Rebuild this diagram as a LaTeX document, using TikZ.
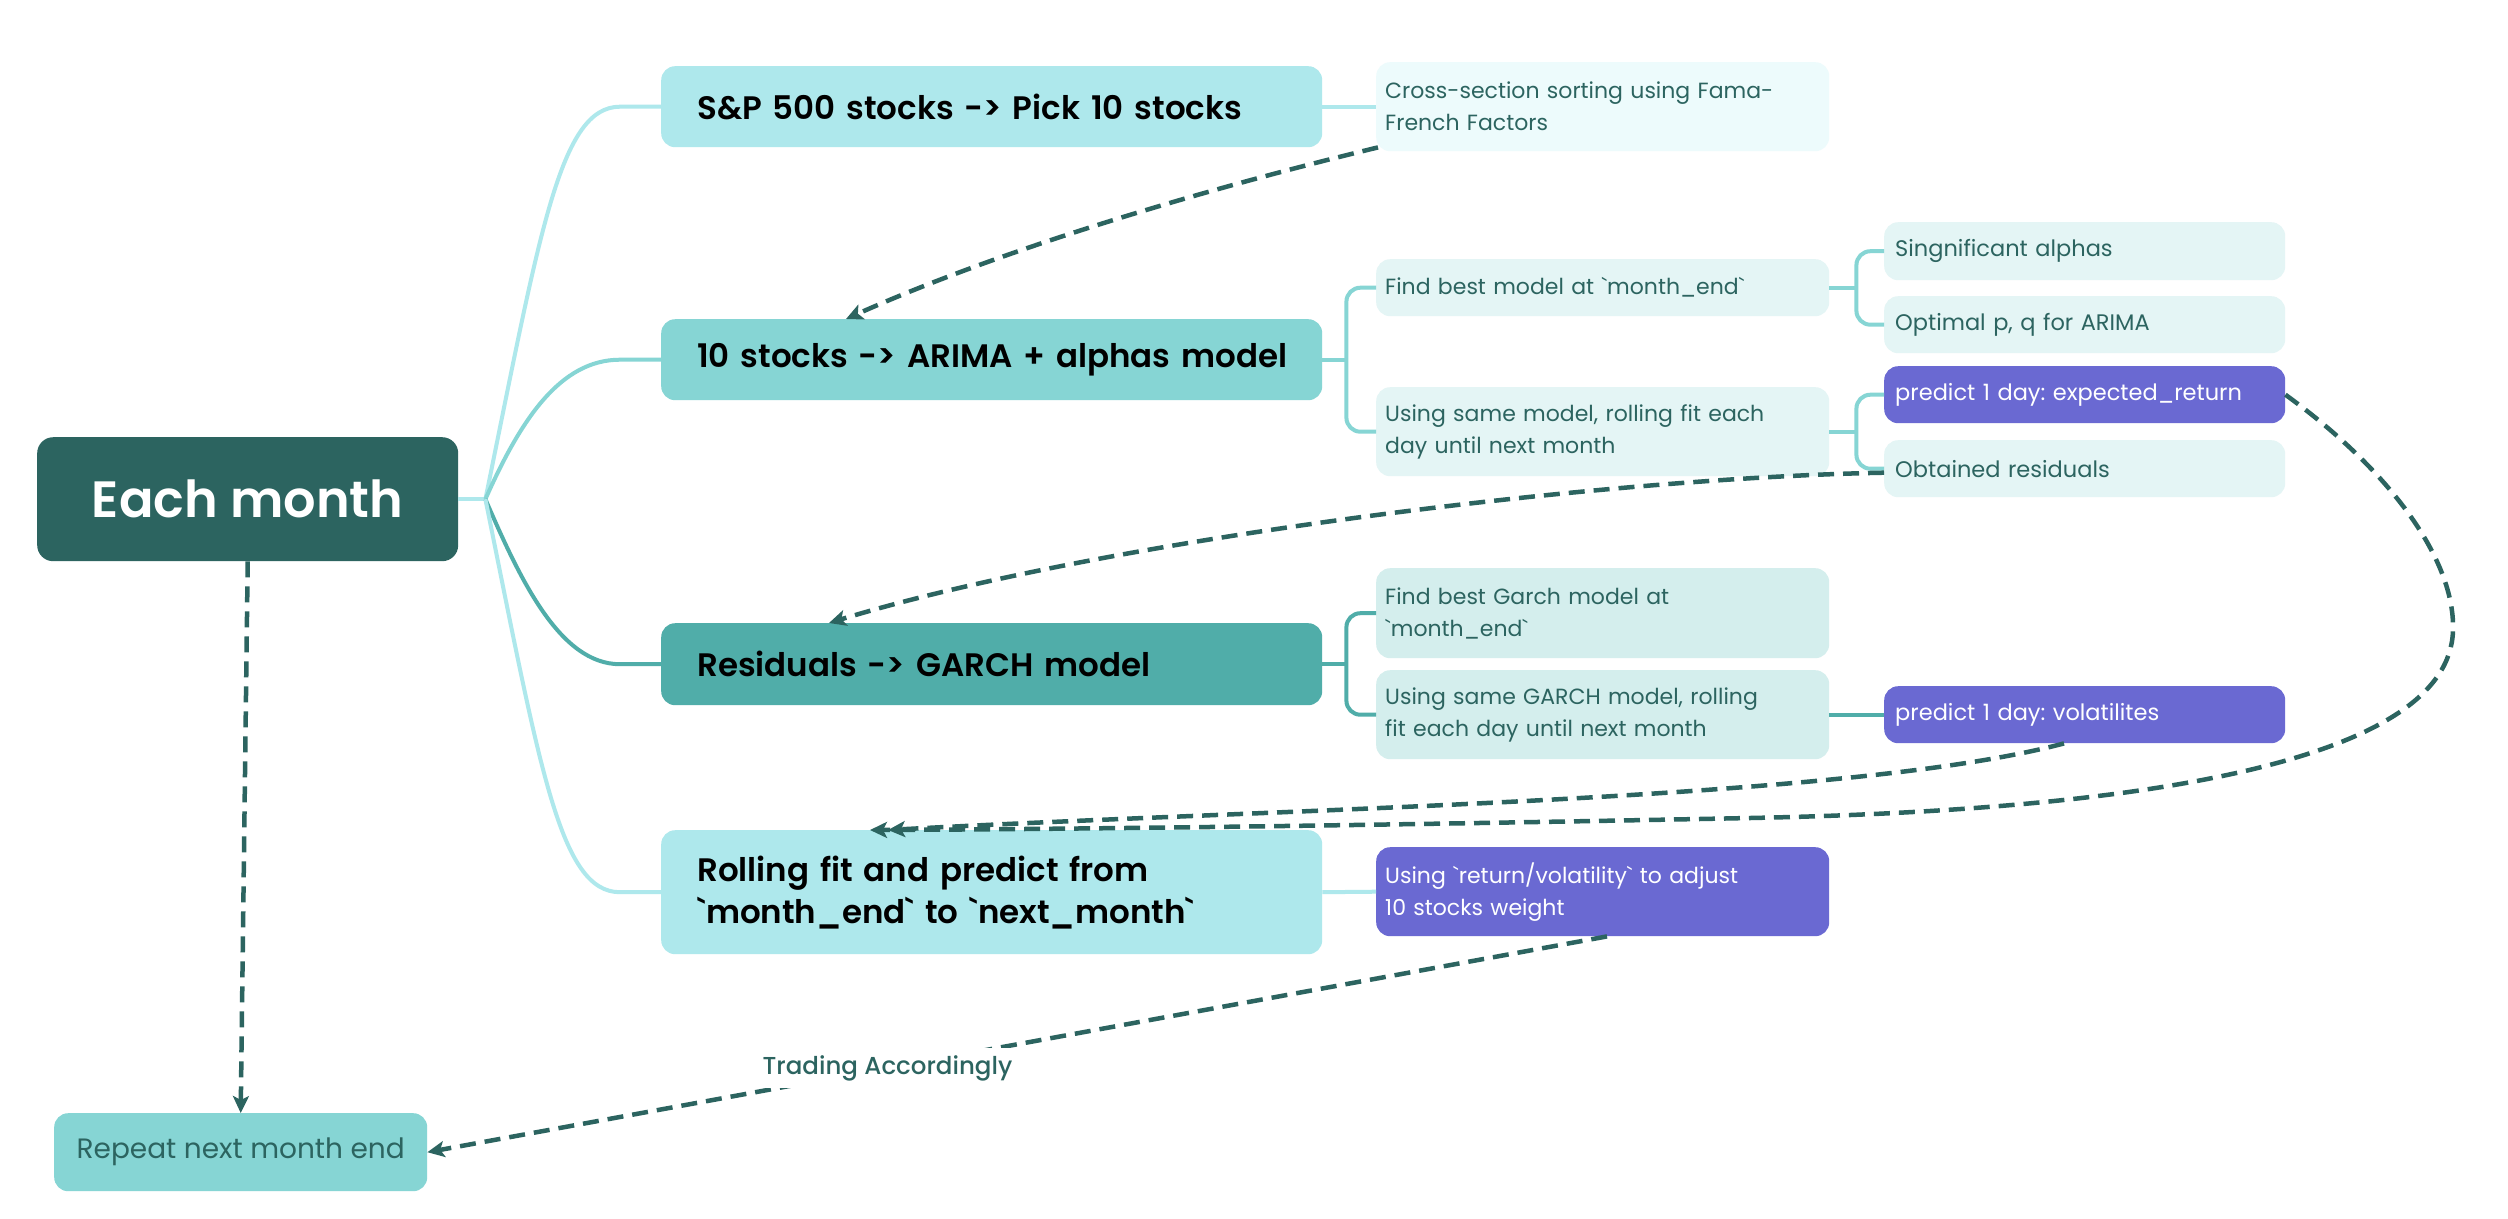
\documentclass[tikz,border=0pt]{standalone}
\usepackage{fontspec}
\newfontfamily\rfont{Poppins}
\newfontfamily\mfont{Poppins Medium}
\newfontfamily\sfont{Poppins SemiBold}
\usetikzlibrary{arrows.meta}
\definecolor{darkteal}{HTML}{2C6460}
\definecolor{cyanL}{HTML}{AEE8EC}
\definecolor{cyanM}{HTML}{86D5D4}
\definecolor{tealM}{HTML}{50ADA9}
\definecolor{childA}{HTML}{E4F5F5}
\definecolor{childG}{HTML}{D4EEED}
\definecolor{crossC}{HTML}{EDFBFC}
\definecolor{purp}{HTML}{6A69D2}
\frenchspacing
\begin{document}
\begin{tikzpicture}[x=1pt,y=-1pt,
  box/.style={rounded corners=14pt, anchor=north west, inner ysep=0pt, align=left},
  mainbox/.style={box, minimum width=661pt, minimum height=81pt, text width=589pt, inner xsep=36pt,
    font=\sfont\fontsize{32.5}{42}\selectfont, text=black},
  cbox/.style={box, minimum width=453pt, text width=435pt, inner xsep=9pt,
    font=\rfont\fontsize{22}{32}\selectfont, text=darkteal},
  tbox/.style={box, minimum width=401pt, minimum height=57pt, text width=379pt, inner xsep=11pt,
    font=\rfont\fontsize{22.5}{32}\selectfont, text=darkteal},
  br/.style={line width=4pt},
  dline/.style={draw=darkteal, line width=4.5pt, dash pattern=on 16pt off 9pt,
    -{Stealth[length=17pt,width=16pt,inset=4pt]}}
]
\useasboundingbox[fill=white] (0,0) rectangle (2508,1218);

% main nodes
\node[box, fill=darkteal, text=white, font=\sfont\fontsize{51}{60}\selectfont,
  minimum width=421pt, minimum height=124pt, align=center, rounded corners=16pt] (each) at (37,437) {Each month};
\node[mainbox, fill=cyanL] (sp) at (661,66) {\mbox{S\&P 500 stocks -> Pick 10 stocks}};
\node[mainbox, fill=cyanM] (arima) at (661,319) {\mbox{10 stocks -> ARIMA + alphas model}};
\node[mainbox, fill=tealM, minimum height=82pt] (garch) at (661,623) {Residuals -> GARCH model};
\node[mainbox, fill=cyanL, minimum height=124pt] (roll) at (661,830) {Rolling fit and predict from\\`month\_end` to `next\_month`};

% second column
\node[cbox, fill=crossC, minimum height=89pt] (cross) at (1376,62) {Cross-section sorting using Fama-\\French Factors};
\node[cbox, fill=childA, minimum height=57pt] (fb) at (1376,259) {Find best model at `month\_end`};
\node[cbox, fill=childA, minimum height=89pt] (us) at (1376,387) {Using same model, rolling fit each\\day until next month};
\node[cbox, fill=childG, minimum height=90pt] (fg) at (1376,568) {Find best Garch model at\\`month\_end`};
\node[cbox, fill=childG, minimum height=89pt] (ug) at (1376,670) {Using same GARCH model, rolling\\fit each day until next month};
\node[cbox, fill=purp, text=white, minimum height=89pt] (rv) at (1376,847) {Using `return/volatility` to adjust\\10 stocks weight};

% third column
\node[tbox, fill=childA, minimum height=58pt] (sg) at (1884,222) {Singnificant alphas};
\node[tbox, fill=childA] (op) at (1884,296) {Optimal p, q for ARIMA};
\node[tbox, fill=purp, text=white] (pe) at (1884,366) {predict 1 day: expected\_return};
\node[tbox, fill=childA] (ob) at (1884,440) {Obtained residuals};
\node[tbox, fill=purp, text=white] (pv) at (1884,686) {predict 1 day: volatilites};

% repeat
\node[box, fill=cyanM, text=darkteal, font=\rfont\fontsize{28}{32}\selectfont,
  minimum width=373pt, minimum height=78pt, align=center] (rep) at (54,1113) {Repeat next month end};

% branches from Each month
\coordinate (fork) at ([xshift=27pt]each.east);
\draw[br, cyanL] (each.east) -- (fork);
\draw[br, cyanL] (fork) .. controls +(55,-269) and ([xshift=-101pt]sp.west) .. ([xshift=-41pt]sp.west) -- (sp.west);
\draw[br, cyanM] (fork) .. controls +(35,-79) and ([xshift=-101pt]arima.west) .. ([xshift=-41pt]arima.west) -- (arima.west);
\draw[br, tealM] (fork) .. controls +(35,81) and ([xshift=-101pt]garch.west) .. ([xshift=-41pt]garch.west) -- (garch.west);
\draw[br, cyanL] (fork) .. controls +(55,271) and ([xshift=-101pt]roll.west) .. ([xshift=-41pt]roll.west) -- (roll.west);

% simple links
\draw[br, cyanL] (sp.east) -- (cross.west);
\draw[br, cyanL] (roll.east) -- (rv.west);
\draw[br, tealM] (ug.east) -- (pv.west);

% brackets
\coordinate (ba) at ([xshift=24pt]arima.east);
\draw[br, cyanM] (arima.east) -- (ba);
\draw[br, cyanM, rounded corners=14pt] (fb.west) -| (ba) |- (us.west);
\coordinate (bf) at ([xshift=27pt]fb.east);
\draw[br, cyanM] (fb.east) -- (bf);
\draw[br, cyanM, rounded corners=14pt] (sg.west) -| (bf) |- (op.west);
\coordinate (bu) at ([xshift=27pt]us.east);
\draw[br, cyanM] (us.east) -- (bu);
\draw[br, cyanM, rounded corners=14pt] (pe.west) -| (bu) |- (ob.west);
\coordinate (bg) at ([xshift=24pt]garch.east);
\draw[br, tealM] (garch.east) -- (bg);
\draw[br, tealM, rounded corners=14pt] (fg.west) -| (bg) |- (ug.west);

% dashed connectors
\draw[dline] ([xshift=2pt,yshift=4pt]cross.south west) .. controls +(-178,43) and +(154,-69) .. ([xshift=185pt]arima.north west);
\draw[dline] ([yshift=-4pt]ob.west) .. controls +(-284,5) and +(271,-83) .. ([xshift=168pt]garch.north west);
\draw[dline] (pe.east) .. controls +(105,76) and (2455,560) .. (2453,630)
  .. controls (2450,760) and (2150,810) .. (1750,818)
  .. controls (1400,825) and (1100,829) .. ([xshift=209pt]roll.north west);
\draw[dline] ([xshift=180pt]pv.south west) .. controls +(-214,57) and +(405,-22) .. ([xshift=227pt]roll.north west);
\draw[dline] ([xshift=231pt]rv.south west) -- node[pos=0.61, fill=white, text=darkteal,
  font=\mfont\fontsize{24.5}{28}\selectfont, inner sep=7pt] (lbl) {Trading Accordingly} (rep.east);
\draw[dline] (each.south) -- (rep.north);
\end{tikzpicture}
\end{document}
